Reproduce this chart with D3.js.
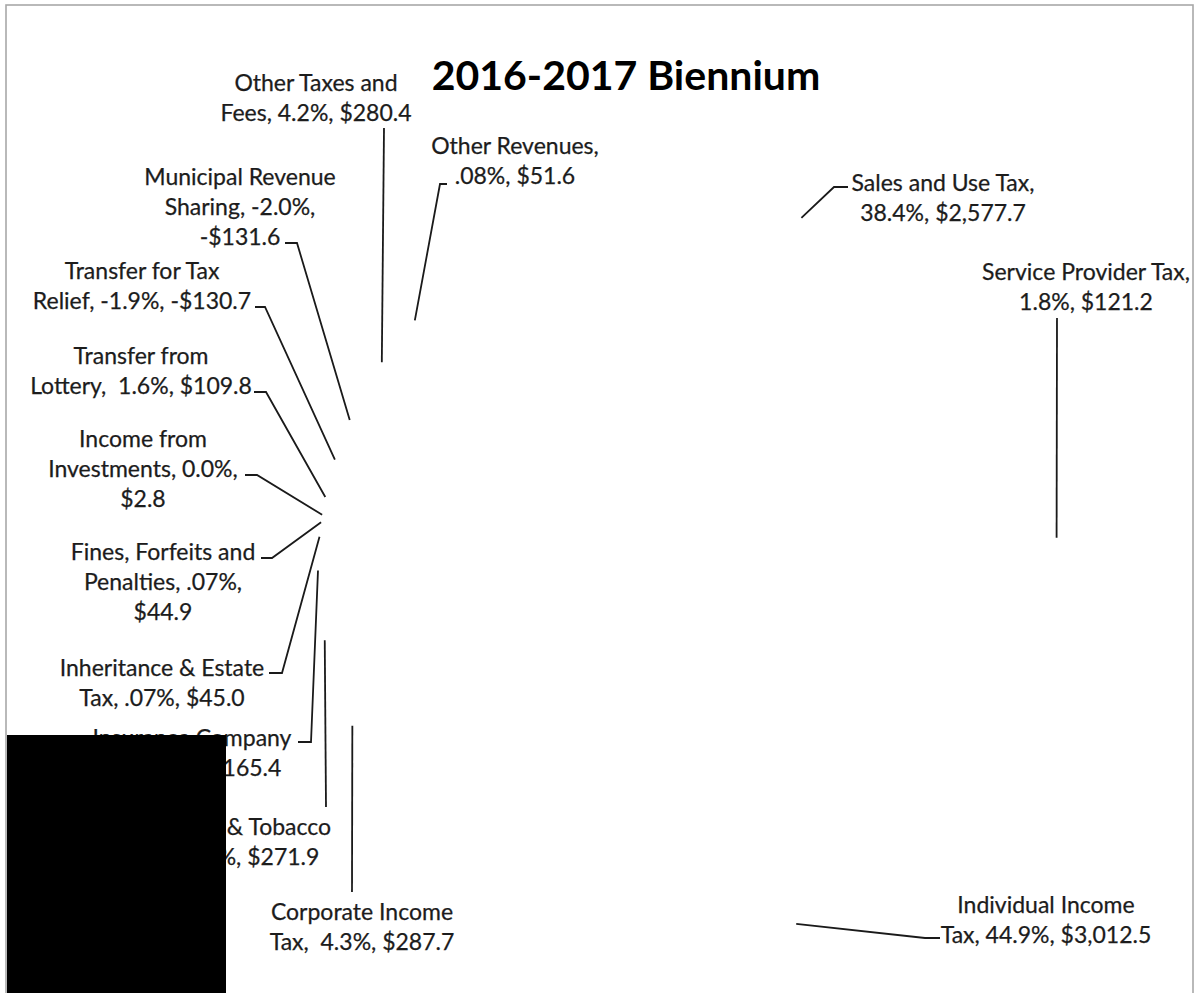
<!DOCTYPE html>
<html>
<head>
<meta charset="utf-8">
<script src="https://cdn.jsdelivr.net/npm/d3@7"></script>
<style>
  html, body { margin: 0; padding: 0; background: #fff; }
  svg { display: block; }
  text { font-family: Lato, "Open Sans", sans-serif; fill: #1c1c1c; white-space: pre; }
</style>
</head>
<body>
<svg id="chart" width="1195" height="993"></svg>
<script>
// General fund revenue sources, 2016-2017 biennium ($ millions)
const categories = [
  "Sales and Use Tax", "Service Provider Tax", "Individual Income Tax",
  "Corporate Income Tax", "Cigarette & Tobacco Tax", "Insurance Company Tax",
  "Inheritance & Estate Tax", "Fines, Forfeits and Penalties",
  "Income from Investments", "Transfer from Lottery", "Transfer for Tax Relief",
  "Municipal Revenue Sharing", "Other Taxes and Fees", "Other Revenues"
];
const amounts = [
  2577.7, 121.2, 3012.5, 287.7, 271.9, 165.4, 45.0, 44.9, 2.8, 109.8,
  -130.7, -131.6, 280.4, 51.6
];
const pctText = [
  "38.4%", "1.8%", "44.9%", "4.3%", "4.1%", "2.5%", ".07%", ".07%",
  "0.0%", "1.6%", "-1.9%", "-2.0%", "4.2%", ".08%"
];
// label wording, "|" breaks a line, {p} = percent, {v} = amount
const labelTemplates = [
  "Sales and Use Tax,|{p}, {v}",
  "Service Provider Tax,|{p}, {v}",
  "Individual Income|Tax, {p}, {v}",
  "Corporate Income|Tax,  {p}, {v}",
  "Cigarette & Tobacco|Tax, {p}, {v}",
  "Insurance Company|Tax, {p}, {v}",
  "Inheritance & Estate|Tax, {p}, {v}",
  "Fines, Forfeits and|Penalties, {p},|{v}",
  "Income from|Investments, {p},|{v}",
  "Transfer from|Lottery,  {p}, {v}",
  "Transfer for Tax|Relief, {p}, {v}",
  "Municipal Revenue|Sharing, {p},|{v}",
  "Other Taxes and|Fees, {p}, {v}",
  "Other Revenues,|{p}, {v}"
];
const chartTitle = "2016-2017 Biennium";

// ---- layout ----
const W = 1195, H = 993;
const cx = 688, cy = 570, R = 370;
const firstSliceDeg = -46.3;
const lineStep = 30;
// label centre x and first-line centre y
const labelAnchor = [
  [943, 183], [1086, 272], [1046, 905], [362, 912], [230, 827], [192, 738],
  [162, 668], [163, 552], [143, 439], [141, 356], [142, 271], [240, 177],
  [316, 83], [515, 146]
];
// leader line route from the slice edge to the label
const leaderRoute = [
  [[834, 187], [848, 187]],
  [[1057, 318]],
  [[925, 938], [940, 938]],
  [[352, 892]],
  [[326, 807]],
  [[311, 742], [298, 742]],
  [[282, 673], [269, 673]],
  [[272, 558], [261, 558]],
  [[257, 475], [245, 475]],
  [[266, 392], [254, 392]],
  [[265, 307], [255, 307]],
  [[297, 243], [285, 243]],
  [[384, 128]],
  [[440, 184], [447, 184]]
];

const fmtNum = d3.format(",.1f");
const money = v => (v < 0 ? "-$" : "$") + fmtNum(Math.abs(v));

const rows = categories.map((name, i) => ({
  name,
  amount: amounts[i],
  lines: labelTemplates[i].replace("{p}", pctText[i]).replace("{v}", money(amounts[i])).split("|"),
  anchor: labelAnchor[i],
  route: leaderRoute[i]
}));

const svg = d3.select("#chart");

// page frame
svg.append("rect")
  .attr("x", 6).attr("y", 5).attr("width", W - 8).attr("height", H + 20)
  .attr("fill", "#fff").attr("stroke", "#a8a8a8").attr("stroke-width", 1.6);

const start = firstSliceDeg * Math.PI / 180;
const pie = d3.pie().sort(null)
  .value(d => Math.abs(d.amount))
  .startAngle(start).endAngle(start + 2 * Math.PI);
const arcs = pie(rows);

const slice = d3.arc().innerRadius(0).outerRadius(R - 3);
const rim = d3.arc().innerRadius(R).outerRadius(R);

// slices (white fill)
svg.append("g").attr("transform", `translate(${cx},${cy})`)
  .selectAll("path").data(arcs).join("path")
  .attr("d", slice).attr("fill", "#fff").attr("stroke", "none");

// leader lines
const line = d3.line();
svg.append("g").selectAll("path").data(arcs).join("path")
  .attr("d", a => {
    const [px, py] = rim.centroid(a);
    return line([[cx + px, cy + py], ...a.data.route].reverse());
  })
  .attr("fill", "none").attr("stroke", "#1a1a1a").attr("stroke-width", 1.8);

// data labels
const lab = svg.append("g").selectAll("text").data(rows).join("text")
  .attr("text-anchor", "middle")
  .attr("font-size", 23)
  .style("stroke", "#1c1c1c").style("stroke-width", 0.25);
lab.selectAll("tspan").data(d => d.lines.map((t, k) => ({ t, k, a: d.anchor })))
  .join("tspan")
  .attr("x", d => d.a[0])
  .attr("y", d => d.a[1] + 8 + d.k * lineStep)
  .text(d => d.t);

// title
svg.append("text")
  .attr("x", 626).attr("y", 90)
  .attr("text-anchor", "middle")
  .attr("font-size", 41).attr("font-weight", 700)
  .style("fill", "#000")
  .text(chartTitle);

// redaction block
svg.append("rect")
  .attr("x", 7).attr("y", 735).attr("width", 219).attr("height", H - 735)
  .attr("fill", "#000");
</script>
</body>
</html>
